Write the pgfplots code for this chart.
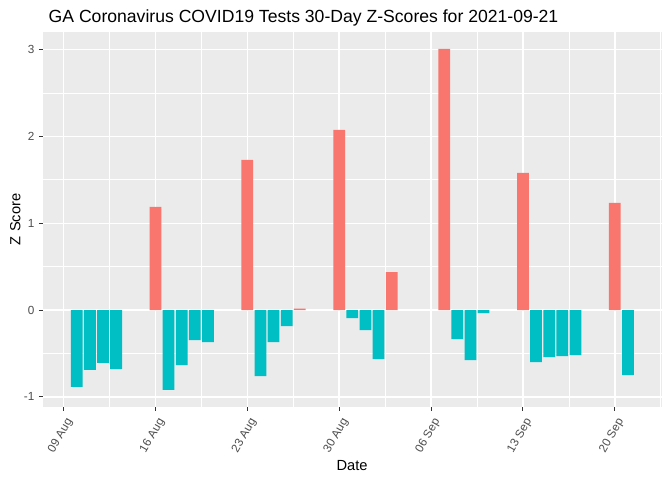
\documentclass[border=0pt]{standalone}
\usepackage{fontspec}
\setmainfont{Liberation Sans}
\usepackage{pgfplots}
\pgfplotsset{compat=1.18}
\definecolor{panelbg}{HTML}{EBEBEB}
\definecolor{posred}{HTML}{F8766D}
\definecolor{negteal}{HTML}{00BFC4}
\definecolor{gray20}{HTML}{333333}
\definecolor{gray30}{HTML}{4D4D4D}

% day 0 = 09 Aug 2021
\pgfplotstableread{
day z
7  1.19
14 1.73
18 0.015
21 2.076
25 0.438
29 3.01
35 1.58
42 1.234
}\postab
\pgfplotstableread{
day z
1  -0.885
2  -0.69
3  -0.61
4  -0.68
8  -0.92
9  -0.634
10 -0.346
11 -0.369
15 -0.761
16 -0.369
17 -0.185
22 -0.092
23 -0.23
24 -0.565
30 -0.334
31 -0.577
32 -0.035
36 -0.60
37 -0.542
38 -0.53
39 -0.519
43 -0.75
}\negtab

\begin{document}
\begin{tikzpicture}
\useasboundingbox (0,0) rectangle (504pt,360pt);
\fill[white] (0,0) rectangle (504pt,360pt);
\begin{axis}[
  at={(32pt,54.75pt)}, anchor=south west,
  scale only axis, width=464.5pt, height=281.5pt,
  xmin=-1.595, xmax=45.595, ymin=-1.117, ymax=3.207,
  axis background/.style={fill=panelbg},
  axis line style={draw=none},
  xtick={0,7,14,21,28,35,42},
  xticklabels={09 Aug,16 Aug,23 Aug,30 Aug,06 Sep,13 Sep,20 Sep},
  minor xtick={3.5,10.5,17.5,24.5,31.5,38.5,45.5},
  ytick={-1,0,1,2,3},
  yticklabels={-1,0,1,2,3},
  minor ytick={-0.5,0.5,1.5,2.5},
  grid=both,
  major grid style={white, line width=1.07pt},
  minor grid style={white, line width=0.53pt},
  tick align=outside,
  major tick length=2.75pt, minor tick length=0pt,
  xtick pos=bottom, ytick pos=left,
  tick style={color=gray20, line width=0.8pt},
  ticklabel style={font=\fontsize{8.8}{10}\selectfont, text=gray30},
  xticklabel style={rotate=60, anchor=north east},
  clip=false,
]
\addplot[ybar, bar width=0.9, bar shift=0pt, fill=posred, draw=none] table[x=day, y=z] {\postab};
\addplot[ybar, bar width=0.9, bar shift=0pt, fill=negteal, draw=none] table[x=day, y=z] {\negtab};
\end{axis}
\node[anchor=base west, font=\fontsize{13.2}{15}\selectfont] at (33pt,343.5pt)
  {GA Coronavirus COVID19 Tests 30-Day Z-Scores for 2021-09-21};
\node[rotate=90, font=\fontsize{11}{13}\selectfont] at (11.5pt,195.5pt) {Z Score};
\node[font=\fontsize{11}{13}\selectfont] at (264pt,11pt) {Date};
\end{tikzpicture}
\end{document}
